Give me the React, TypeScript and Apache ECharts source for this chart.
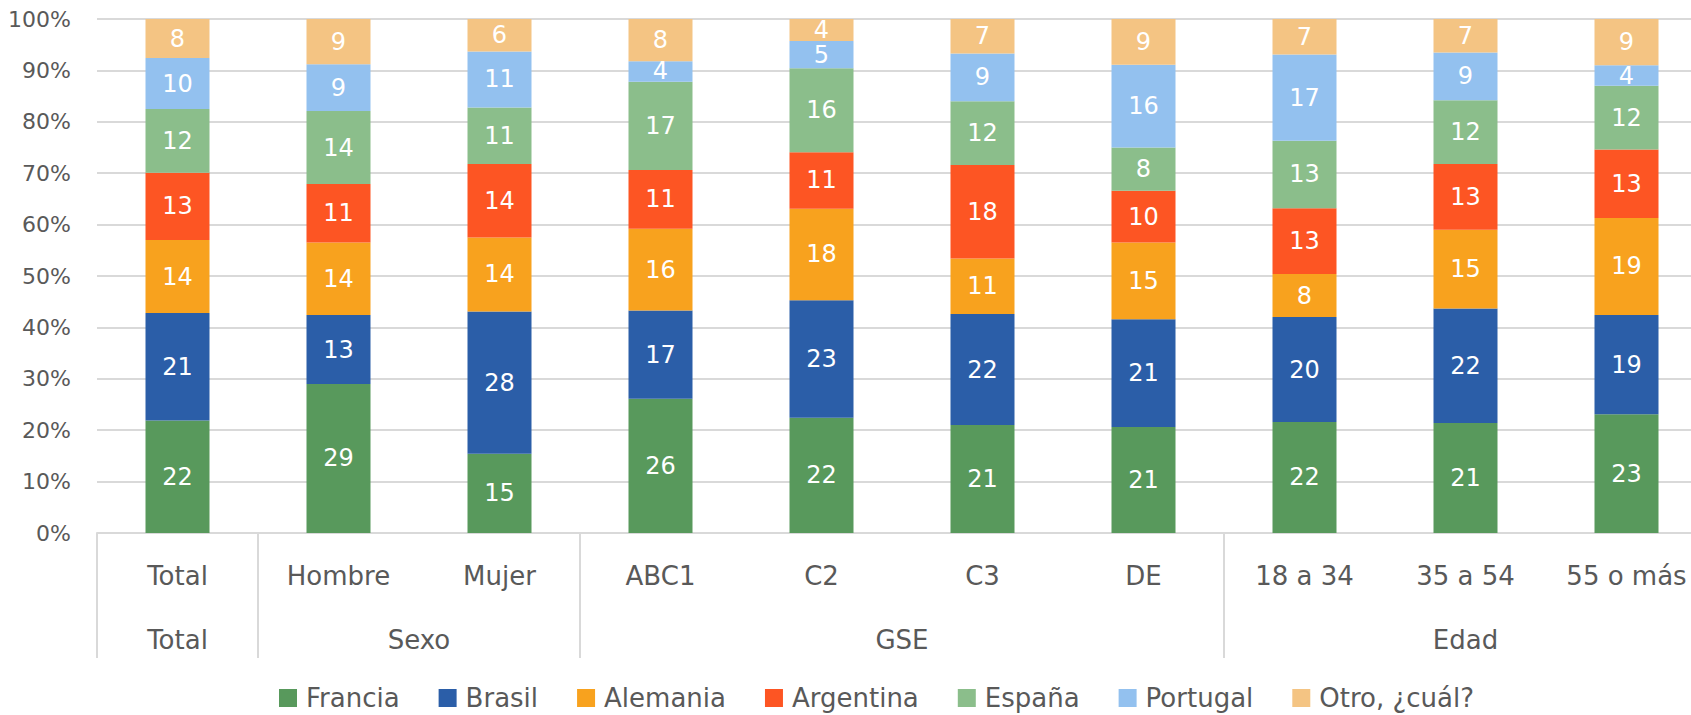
import React, { useEffect, useRef } from "react";
import * as echarts from "echarts";

const categories = ["Total", "Hombre", "Mujer", "ABC1", "C2", "C3", "DE", "18 a 34", "35 a 54", "55 o más"];
const groupNames = ["Total", "Sexo", "GSE", "Edad"];
const groupSpans = [1, 2, 4, 3];
const yTicks = [0, 10, 20, 30, 40, 50, 60, 70, 80, 90, 100];

const francia = [21.9, 29.0, 15.4, 26.1, 22.4, 21.0, 20.6, 21.6, 21.4, 23.1];
const brasil = [20.9, 13.4, 27.7, 17.2, 22.9, 21.6, 21.0, 20.4, 22.3, 19.3];
const alemania = [14.2, 14.1, 14.4, 15.9, 17.8, 10.8, 14.9, 8.4, 15.3, 18.9];
const argentina = [13.1, 11.4, 14.3, 11.4, 11.0, 18.2, 10.1, 12.8, 12.8, 13.3];
const espana = [12.4, 14.2, 11.0, 17.2, 16.3, 12.4, 8.4, 13.1, 12.4, 12.4];
const portugal = [9.9, 9.1, 10.9, 4.0, 5.3, 9.3, 16.1, 16.8, 9.3, 4.0];
const otro = [7.6, 8.8, 6.3, 8.2, 4.3, 6.7, 8.9, 6.9, 6.5, 9.0];

const seriesNames = ["Francia", "Brasil", "Alemania", "Argentina", "España", "Portugal", "Otro, ¿cuál?"];
const seriesData = [francia, brasil, alemania, argentina, espana, portugal, otro];
const seriesColors = ["#58995C", "#2B5EA8", "#F8A21E", "#FD5523", "#8BBE8B", "#93C1EF", "#F4C483"];

const FONT = "DejaVu Sans";
const TEXT = "#595959";
const GRID = "#D9D9D9";

export default function App() {
  const ref = useRef<HTMLDivElement>(null);

  useEffect(() => {
    document.body.style.margin = "0";
    if (!ref.current) return;
    const chart = echarts.init(ref.current, undefined, { renderer: "svg" });

    const starts: number[] = [];
    const centers: Record<string, string> = {};
    let acc = 0;
    groupSpans.forEach((span, i) => {
      starts.push(acc);
      centers[String(acc + (span - 1) / 2)] = groupNames[i];
      acc += span;
    });

    chart.setOption({
      animation: false,
      textStyle: { fontFamily: FONT },
      grid: { left: 97, top: 19, right: -16, bottom: 182, outerBoundsMode: "none", containLabel: false },
      legend: {
        data: seriesNames,
        left: 274,
        top: 680,
        icon: "rect",
        itemWidth: 18,
        itemHeight: 18,
        itemGap: 39,
        textStyle: { fontSize: 26, color: TEXT, fontFamily: FONT, padding: [0, 0, 0, 4] },
      },
      xAxis: [
        {
          type: "category",
          data: categories,
          position: "bottom",
          axisLine: { show: true, lineStyle: { color: GRID, width: 2 } },
          axisTick: {
            show: true,
            length: 125,
            interval: (index: number) => starts.indexOf(index) >= 0,
            lineStyle: { color: GRID, width: 2 },
          },
          axisLabel: { interval: 0, margin: 30, fontSize: 26, color: TEXT, fontFamily: FONT },
          splitLine: { show: false },
        },
        {
          type: "value",
          min: -0.5,
          max: categories.length - 0.5,
          interval: 0.5,
          position: "bottom",
          axisLine: { show: false },
          axisTick: { show: false },
          splitLine: { show: false },
          axisLabel: {
            margin: 94,
            fontSize: 26,
            color: TEXT,
            fontFamily: FONT,
            formatter: (v: number) => centers[String(v)] || "",
          },
        },
      ],
      yAxis: {
        type: "value",
        min: yTicks[0],
        max: yTicks[yTicks.length - 1],
        interval: 10,
        axisLine: { show: false },
        axisTick: { show: false },
        axisLabel: { formatter: "{value}%", margin: 26, fontSize: 22, color: TEXT, fontFamily: FONT },
        splitLine: { lineStyle: { color: GRID, width: 2 } },
      },
      series: seriesNames.map((name, i) => ({
        name,
        type: "bar",
        stack: "total",
        xAxisIndex: 0,
        barWidth: 64,
        data: seriesData[i],
        itemStyle: { color: seriesColors[i] },
        label: {
          show: true,
          position: "inside",
          color: "#FFFFFF",
          fontSize: 24,
          lineHeight: 20,
          fontFamily: FONT,
          formatter: (p: any) => String(Math.round(p.value)),
        },
      })),
    });

    return () => chart.dispose();
  }, []);

  return <div ref={ref} style={{ width: 1691, height: 715 }} />;
}
